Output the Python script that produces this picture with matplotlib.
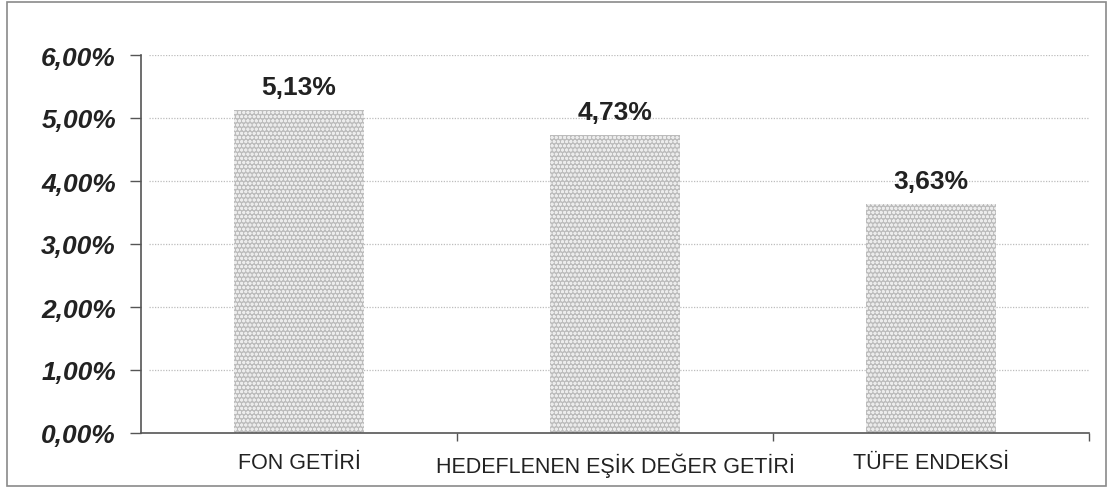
import matplotlib
matplotlib.use("Agg")
import matplotlib.pyplot as plt
from matplotlib.patches import Rectangle
from matplotlib.ticker import FuncFormatter, FixedLocator

plt.rcParams['font.family'] = ['Liberation Sans', 'DejaVu Sans']
plt.rcParams['hatch.linewidth'] = 0.9

categories = ["FON GETİRİ", "HEDEFLENEN EŞİK DEĞER GETİRİ", "TÜFE ENDEKSİ"]
values = [5.13, 4.73, 3.63]
value_labels = ["5,13%", "4,73%", "3,63%"]
y_ticks = [0, 1, 2, 3, 4, 5, 6]

fig = plt.figure(figsize=(11.10, 4.89), dpi=100)
ax = fig.add_axes([141/1110, (489-434)/489, (1089-141)/1110, (434-56)/489])

x = list(range(len(categories)))
ax.bar(x, values, width=0.41, color='#bcbcbc', edgecolor='#ececec',
       hatch='oooo', linewidth=0, zorder=2)

for xi, v, lab in zip(x, values, value_labels):
    ax.annotate(lab, (xi, v), xytext=(0, 8), textcoords='offset points',
                ha='center', va='bottom', fontsize=19, fontweight='bold',
                color='#222222')

ax.set_xlim(-0.5, 2.5)
ax.set_ylim(0, 6)
ax.yaxis.set_major_locator(FixedLocator(y_ticks))
ax.yaxis.set_major_formatter(FuncFormatter(lambda v, p: f"{v:.2f}".replace('.', ',') + "%"))
for lab in ax.get_yticklabels():
    lab.set_fontweight('bold')
    lab.set_fontstyle('italic')
    lab.set_fontsize(19)
    lab.set_color('#222222')

ax.set_xticks(x)
ax.set_xticklabels(categories, fontsize=15.5, color='#222222')
ax.tick_params(axis='x', length=0, pad=14)
ax.set_xticks([0.5, 1.5, 2.5], minor=True)
ax.tick_params(axis='x', which='minor', length=6, width=1, color='#555555', direction='out')
ax.tick_params(axis='y', length=8, width=1, color='#555555', direction='out', pad=10)

for yv in y_ticks[1:]:
    ax.axhline(yv, color='#bdbdbd', linestyle=(0, (1, 1.2)), linewidth=0.9, zorder=1,
               xmin=0.008)

for s in ['top', 'right']:
    ax.spines[s].set_visible(False)
for s in ['left', 'bottom']:
    ax.spines[s].set_color('#555555')
    ax.spines[s].set_linewidth(1.2)

fig.patches.append(Rectangle((7/1110, 2/489), (1106-7)/1110, (486-2)/489,
                             transform=fig.transFigure, fill=False,
                             edgecolor='#8a8a8a', linewidth=1.2))

fig.savefig('out.png', dpi=100)
